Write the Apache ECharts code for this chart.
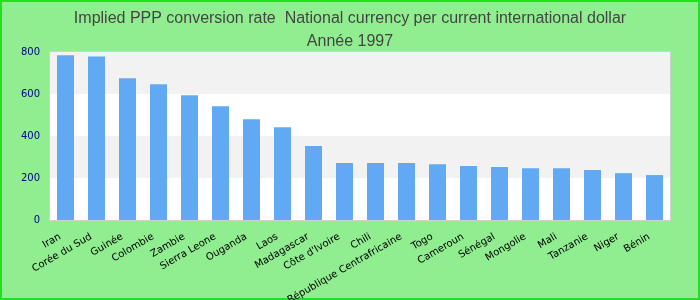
<!DOCTYPE html>
<html>
<head>
<meta charset="utf-8">
<script src="https://cdn.jsdelivr.net/npm/echarts@6/dist/echarts.min.js"></script>
<style>
  html, body { margin: 0; padding: 0; }
  #chart { width: 700px; height: 300px; }
</style>
</head>
<body>
<div id="chart"></div>
<script>
// pays, classés par valeur
const countries = ['Iran', 'Corée du Sud', 'Guinée', 'Colombie', 'Zambie', 'Sierra Leone', 'Ouganda',
  'Laos', 'Madagascar', "Côte d'Ivoire", 'Chili', 'République Centrafricaine', 'Togo', 'Cameroun',
  'Sénégal', 'Mongolie', 'Mali', 'Tanzanie', 'Niger', 'Bénin']
// monnaie nationale par dollar international courant
const pppRate = [784, 779, 675, 646, 594, 542, 480, 442, 352, 271, 271, 271, 266, 257, 252, 247, 247, 238, 223, 214]
const yTicks = [0, 200, 400, 600, 800]

let chart = echarts.init(document.getElementById('chart'))
let option = {
  backgroundColor: '#90ee90',
  textStyle: { fontFamily: 'Liberation Sans, Arial, sans-serif' },
  title: {
    text: 'Implied PPP conversion rate  National currency per current international dollar\nAnnée 1997',
    left: 'center',
    top: 2,
    textStyle: { fontSize: 16, fontWeight: 'normal', color: '#444', lineHeight: 23 }
  },
  graphic: [{
    type: 'rect',
    shape: { x: 1, y: 1, width: 698, height: 298 },
    style: { fill: 'none', stroke: '#22e022', lineWidth: 2 },
    silent: true
  }],
  grid: {
    left: 50, right: 30, top: 52, bottom: 80,
    outerBoundsMode: 'none',
    containLabel: false,
    show: true,
    backgroundColor: '#fff',
    borderColor: '#d0d0d0',
    borderWidth: 2
  },
  xAxis: {
    type: 'category',
    data: countries,
    axisLine: { show: false },
    axisTick: { show: false },
    axisLabel: {
      interval: 0, rotate: 30, fontSize: 10, color: '#000', margin: 13,
      fontFamily: 'DejaVu Sans', padding: [0, 6, 0, 0]
    }
  },
  yAxis: {
    type: 'value',
    min: yTicks[0],
    max: yTicks[yTicks.length - 1],
    interval: 200,
    axisLine: { show: false },
    axisTick: { show: false },
    splitLine: { show: false },
    splitArea: { show: true, areaStyle: { color: ['#ffffff', '#f2f2f2'] } },
    axisLabel: { fontSize: 10, color: '#00008b', margin: 10, fontFamily: 'DejaVu Sans' }
  },
  series: [{
    type: 'bar',
    data: pppRate,
    barWidth: 17,
    itemStyle: { color: '#62a9f4' }
  }]
}
chart.setOption(option)
</script>
</body>
</html>
